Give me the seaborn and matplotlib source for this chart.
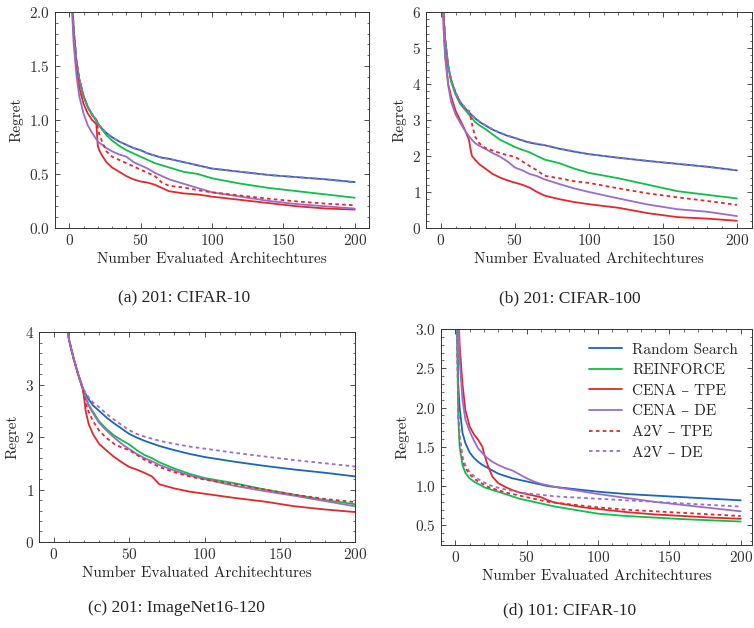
import numpy as np
import pandas as pd
import seaborn as sns
import matplotlib.pyplot as plt
from matplotlib.ticker import AutoMinorLocator, MultipleLocator

# Eje x comun (numero de arquitecturas evaluadas)
X = [1, 2, 3, 5, 7, 10, 13, 16, 19, 20, 21, 23, 26, 30, 35, 40, 45, 50, 55, 60,
     65, 70, 80, 90, 100, 120, 140, 160, 180, 200]

METODOS = ["Random Search", "REINFORCE", "CENA – TPE", "CENA – DE", "A2V – TPE", "A2V – DE"]

# (a) 201: CIFAR-10
A_RS = [3.2, 2.15, 1.85, 1.55, 1.38, 1.22, 1.12, 1.05, 0.99, 0.97, 0.95, 0.92, 0.88, 0.84, 0.80, 0.77,
        0.74, 0.72, 0.69, 0.67, 0.65, 0.64, 0.61, 0.58, 0.55, 0.52, 0.49, 0.47, 0.45, 0.425]
A_RL = [3.2, 2.15, 1.85, 1.55, 1.38, 1.22, 1.12, 1.05, 1.0, 0.97, 0.95, 0.91, 0.86, 0.81, 0.76, 0.72,
        0.69, 0.66, 0.63, 0.60, 0.58, 0.56, 0.52, 0.50, 0.46, 0.41, 0.37, 0.34, 0.31, 0.28]
A_CTPE = [3.1, 2.1, 1.8, 1.5, 1.3, 1.15, 1.06, 1.0, 0.96, 0.76, 0.72, 0.67, 0.61, 0.56, 0.52, 0.48,
          0.45, 0.43, 0.42, 0.40, 0.37, 0.34, 0.32, 0.31, 0.29, 0.26, 0.23, 0.20, 0.18, 0.17]
A_CDE = [3.0, 2.0, 1.72, 1.42, 1.22, 1.06, 0.95, 0.88, 0.82, 0.80, 0.79, 0.77, 0.74, 0.71, 0.68, 0.66,
         0.61, 0.58, 0.55, 0.51, 0.48, 0.45, 0.41, 0.37, 0.33, 0.29, 0.25, 0.22, 0.20, 0.18]
A_VTPE = [3.2, 2.15, 1.85, 1.55, 1.38, 1.22, 1.12, 1.05, 1.0, 0.93, 0.87, 0.80, 0.71, 0.66, 0.63, 0.60,
          0.57, 0.54, 0.51, 0.48, 0.42, 0.39, 0.375, 0.35, 0.33, 0.30, 0.27, 0.245, 0.225, 0.21]
A_VDE = [3.2, 2.15, 1.85, 1.55, 1.38, 1.22, 1.12, 1.05, 0.99, 0.97, 0.95, 0.92, 0.88, 0.84, 0.80, 0.77,
         0.74, 0.72, 0.69, 0.67, 0.65, 0.64, 0.61, 0.58, 0.55, 0.52, 0.49, 0.47, 0.45, 0.42]

# (b) 201: CIFAR-100
B_RS = [7.5, 5.8, 5.2, 4.5, 4.1, 3.75, 3.5, 3.35, 3.2, 3.17, 3.13, 3.05, 2.95, 2.85, 2.73, 2.64,
        2.56, 2.5, 2.43, 2.37, 2.33, 2.3, 2.2, 2.12, 2.05, 1.95, 1.86, 1.78, 1.7, 1.6]
B_RL = [7.5, 5.8, 5.2, 4.5, 4.05, 3.7, 3.45, 3.3, 3.15, 3.1, 3.05, 2.95, 2.85, 2.75, 2.6, 2.45,
        2.35, 2.25, 2.17, 2.1, 2.0, 1.9, 1.8, 1.65, 1.53, 1.38, 1.2, 1.02, 0.92, 0.82]
B_CTPE = [7.2, 5.5, 4.8, 4.0, 3.65, 3.25, 3.0, 2.75, 2.45, 2.2, 2.0, 1.9, 1.77, 1.65, 1.5, 1.4,
          1.32, 1.26, 1.2, 1.12, 1.0, 0.9, 0.8, 0.72, 0.66, 0.56, 0.41, 0.3, 0.26, 0.2]
B_CDE = [7.0, 5.4, 4.7, 3.95, 3.5, 3.15, 2.93, 2.72, 2.55, 2.5, 2.45, 2.36, 2.28, 2.2, 2.08, 1.98,
         1.85, 1.68, 1.6, 1.5, 1.44, 1.35, 1.22, 1.1, 1.0, 0.82, 0.65, 0.52, 0.45, 0.33]
B_VTPE = [7.5, 5.8, 5.2, 4.5, 4.1, 3.75, 3.5, 3.35, 3.25, 3.1, 2.9, 2.55, 2.35, 2.22, 2.15, 2.08,
          2.02, 1.98, 1.85, 1.72, 1.6, 1.45, 1.38, 1.3, 1.25, 1.1, 0.96, 0.85, 0.75, 0.64]
B_VDE = [7.5, 5.8, 5.2, 4.5, 4.1, 3.76, 3.51, 3.36, 3.21, 3.18, 3.14, 3.06, 2.96, 2.86, 2.74, 2.65,
         2.57, 2.5, 2.44, 2.38, 2.34, 2.3, 2.21, 2.13, 2.05, 1.95, 1.86, 1.78, 1.7, 1.6]

# (c) 201: ImageNet16-120
C_RS = [9.0, 7.5, 6.5, 5.2, 4.5, 3.85, 3.5, 3.2, 2.95, 2.88, 2.82, 2.72, 2.6, 2.5, 2.37, 2.26,
        2.16, 2.06, 1.99, 1.93, 1.88, 1.83, 1.75, 1.68, 1.62, 1.53, 1.45, 1.38, 1.32, 1.25]
C_RL = [9.0, 7.5, 6.5, 5.2, 4.5, 3.85, 3.5, 3.2, 2.93, 2.85, 2.76, 2.62, 2.48, 2.3, 2.15, 2.03,
        1.94, 1.86, 1.75, 1.66, 1.6, 1.52, 1.4, 1.3, 1.22, 1.12, 1.0, 0.9, 0.8, 0.72]
C_CTPE = [9.0, 7.5, 6.5, 5.2, 4.5, 3.85, 3.5, 3.2, 2.93, 2.75, 2.5, 2.25, 2.05, 1.87, 1.74, 1.62,
          1.52, 1.43, 1.38, 1.32, 1.25, 1.1, 1.02, 0.96, 0.92, 0.84, 0.77, 0.68, 0.62, 0.57]
C_CDE = [9.0, 7.5, 6.5, 5.2, 4.5, 3.85, 3.5, 3.2, 2.93, 2.85, 2.75, 2.6, 2.45, 2.27, 2.12, 1.99,
         1.87, 1.77, 1.68, 1.6, 1.54, 1.47, 1.36, 1.27, 1.2, 1.07, 0.97, 0.88, 0.78, 0.68]
C_VTPE = [9.0, 7.5, 6.5, 5.2, 4.5, 3.85, 3.5, 3.2, 2.92, 2.8, 2.65, 2.48, 2.3, 2.12, 1.98, 1.87,
          1.8, 1.75, 1.66, 1.57, 1.5, 1.43, 1.33, 1.25, 1.19, 1.1, 1.0, 0.9, 0.82, 0.76]
C_VDE = [9.0, 7.5, 6.5, 5.2, 4.5, 3.85, 3.5, 3.2, 2.95, 2.9, 2.84, 2.76, 2.66, 2.57, 2.44, 2.33,
         2.23, 2.13, 2.06, 2.01, 1.97, 1.93, 1.87, 1.82, 1.78, 1.7, 1.63, 1.56, 1.5, 1.44]

# (d) 101: CIFAR-10
D_RS = [3.3, 2.3, 2.0, 1.68, 1.55, 1.43, 1.36, 1.31, 1.27, 1.26, 1.25, 1.23, 1.2, 1.16, 1.13, 1.1,
        1.08, 1.06, 1.04, 1.02, 1.0, 0.99, 0.97, 0.95, 0.93, 0.9, 0.88, 0.86, 0.84, 0.82]
D_RL = [3.3, 1.9, 1.5, 1.27, 1.17, 1.1, 1.06, 1.03, 1.0, 0.99, 0.98, 0.97, 0.95, 0.93, 0.9, 0.87,
        0.84, 0.82, 0.8, 0.78, 0.76, 0.74, 0.71, 0.68, 0.65, 0.62, 0.6, 0.58, 0.565, 0.55]
D_CTPE = [4.0, 3.3, 2.8, 2.3, 1.97, 1.76, 1.66, 1.59, 1.5, 1.42, 1.36, 1.25, 1.12, 1.04, 0.99, 0.95,
          0.92, 0.9, 0.88, 0.86, 0.82, 0.79, 0.76, 0.73, 0.71, 0.67, 0.64, 0.62, 0.6, 0.585]
D_CDE = [4.0, 3.2, 2.6, 2.1, 1.85, 1.7, 1.58, 1.48, 1.42, 1.4, 1.38, 1.35, 1.31, 1.27, 1.23, 1.2,
         1.15, 1.1, 1.06, 1.03, 1.01, 0.99, 0.96, 0.93, 0.9, 0.85, 0.8, 0.76, 0.72, 0.68]
D_VTPE = [3.3, 1.95, 1.6, 1.33, 1.23, 1.15, 1.1, 1.06, 1.03, 1.02, 1.01, 0.99, 0.97, 0.95, 0.92, 0.9,
          0.88, 0.86, 0.84, 0.82, 0.8, 0.79, 0.77, 0.75, 0.73, 0.7, 0.68, 0.66, 0.64, 0.62]
D_VDE = [3.3, 2.0, 1.65, 1.38, 1.27, 1.18, 1.13, 1.09, 1.06, 1.05, 1.04, 1.02, 1.0, 0.98, 0.96, 0.94,
         0.92, 0.91, 0.9, 0.89, 0.88, 0.87, 0.86, 0.85, 0.84, 0.82, 0.8, 0.78, 0.76, 0.74]

COLORES = ["#1a66b8", "#0fbf4a", "#e3282b", "#9c6ccb", "#e3282b", "#9c6ccb"]
ESTILOS = ["-", "-", "-", "-", (0, (2, 1.8)), (0, (2, 1.8))]

sns.set_style("ticks")
plt.rcParams.update({
    "font.family": ["cmr10", "DejaVu Serif"],
    "mathtext.fontset": "cm",
    "axes.formatter.use_mathtext": True,
    "font.size": 11,
    "axes.linewidth": 0.7,
    "axes.edgecolor": "#333333",
    "xtick.direction": "in",
    "ytick.direction": "in",
    "xtick.top": True,
    "ytick.right": True,
    "xtick.major.size": 3.5,
    "ytick.major.size": 3.5,
    "xtick.minor.size": 1.8,
    "ytick.minor.size": 1.8,
    "xtick.major.width": 0.6,
    "ytick.major.width": 0.6,
    "xtick.minor.width": 0.5,
    "ytick.minor.width": 0.5,
    "xtick.labelsize": 11,
    "ytick.labelsize": 11,
    "axes.labelsize": 11,
    "xtick.color": "#333333",
    "ytick.color": "#333333",
})

fig = plt.figure(figsize=(7.54, 6.28), dpi=100)

paneles = [
    ([0.0729, 0.637, 0.4165, 0.344], [A_RS, A_RL, A_CTPE, A_CDE, A_VTPE, A_VDE], (0, 2.0), 0.5, (-10, 210)),
    ([0.565, 0.637, 0.432, 0.344], [B_RS, B_RL, B_CTPE, B_CDE, B_VTPE, B_VDE], (0, 6), 1, (-10, 210)),
    ([0.0517, 0.137, 0.4191, 0.334], [C_RS, C_RL, C_CTPE, C_CDE, C_VTPE, C_VDE], (0, 4), 1, (-10, 200)),
    ([0.585, 0.132, 0.4125, 0.344], [D_RS, D_RL, D_CTPE, D_CDE, D_VTPE, D_VDE], (0.25, 3.0), 0.5, (-10, 208)),
]

ejes = []
for pos, series, ylim, paso, xlim in paneles:
    ax = fig.add_axes(pos)
    for nombre, valores, color, estilo in zip(METODOS, series, COLORES, ESTILOS):
        df = pd.DataFrame({"x": X, "y": valores})
        sns.lineplot(data=df, x="x", y="y", ax=ax, color=color, linestyle=estilo,
                     linewidth=1.3, label=nombre, legend=False)
    ax.set_xlim(*xlim)
    ax.set_ylim(*ylim)
    ax.xaxis.set_major_locator(MultipleLocator(50))
    ax.yaxis.set_major_locator(MultipleLocator(paso))
    ax.xaxis.set_minor_locator(AutoMinorLocator())
    ax.yaxis.set_minor_locator(AutoMinorLocator())
    ax.set_xlabel("Number Evaluated Architechtures", labelpad=3)
    ax.set_ylabel("Regret")
    for s in ax.spines.values():
        s.set_visible(True)
    ejes.append(ax)

# Leyenda solo en el panel (d)
ejes[3].legend(loc="upper right", frameon=False, fontsize=11, handlelength=2.15,
               labelspacing=0.45, borderaxespad=0.5, handletextpad=0.7)

# Subtitulos
fuente_cap = dict(family="Liberation Serif", fontsize=12.5, ha="center", va="center")
fig.text(184 / 754, 1 - 298 / 628, "(a) 201: CIFAR-10", **fuente_cap)
fig.text(570 / 754, 1 - 298 / 628, "(b) 201: CIFAR-100", **fuente_cap)
fig.text(176 / 754, 1 - 608 / 628, "(c) 201: ImageNet16-120", **fuente_cap)
fig.text(570 / 754, 1 - 610 / 628, "(d) 101: CIFAR-10", **fuente_cap)

fig.savefig("out.png", dpi=100)
plt.close(fig)
